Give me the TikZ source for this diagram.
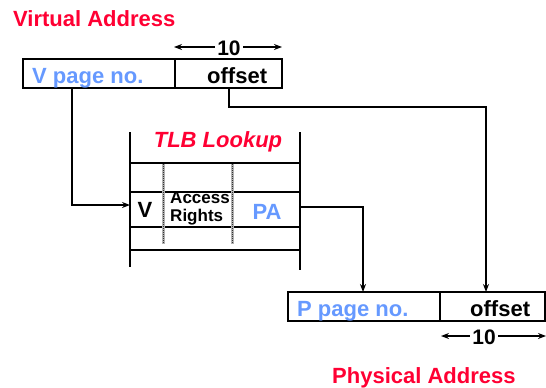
\documentclass[tikz,border=0pt]{standalone}
\usepackage{fontspec}
\setmainfont{Liberation Sans}
\usetikzlibrary{arrows.meta}
\definecolor{hred}{RGB}{255,0,51}
\definecolor{hblue}{RGB}{102,153,255}
\tikzset{
  lbl/.style={font=\fontsize{22}{24}\selectfont\bfseries, inner sep=0pt, anchor=base},
  redlbl/.style={lbl, text=hred},
  bluelbl/.style={lbl, text=hblue},
  tenlbl/.style={lbl, font=\fontsize{21}{22}\selectfont\bfseries, anchor=center, fill=white, inner xsep=2pt},
  boxline/.style={line width=2.4pt, draw=black},
  conn/.style={line width=2pt, -{Stealth[length=8pt,width=6pt]}},
  dimarr/.style={line width=2pt, {Stealth[length=8pt,width=6pt]}-{Stealth[length=8pt,width=6pt]}},
  hatch/.style={line width=3pt, draw=gray!60},
  hatchtop/.style={line width=1pt, draw=black!80, dash pattern=on 1pt off 1pt},
}
\begin{document}
\begin{tikzpicture}[x=1pt,y=-1pt]
\useasboundingbox (0,0) rectangle (546,388);
% Virtual address
\node[redlbl, anchor=base west] (vatitle) at (13,27) {Virtual Address};
\draw[boxline] (23,59) rectangle (282,88);
\draw[boxline] (175,59) -- (175,88);
\node[bluelbl, anchor=base west] (vpage) at (32,83) {V page no.};
\node[lbl, anchor=base west] (voff) at (207,83) {offset};
\coordinate (vtl) at (174,47);
\coordinate (vtr) at (282,47);
\draw[dimarr] (vtl) -- (vtr);
\node[tenlbl] (vten) at (229,48) {10};
% TLB
\draw[boxline] (130,132) -- (130,267);
\draw[boxline] (300,132) -- (300,270);
\foreach \yy in {163,192,227,250} \draw[boxline] (130,\yy) -- (300,\yy);
\foreach \xx in {163,232} {
  \draw[hatch] (\xx,164) -- (\xx,244);
  \draw[hatchtop] (\xx,164) -- (\xx,244);
}
\node[lbl, text=hred, font=\fontsize{22}{24}\selectfont\bfseries\itshape, anchor=base] (tlbtitle) at (218,147) {TLB Lookup};
\node[lbl, anchor=center] (vbit) at (145,210) {V};
\node[lbl, font=\fontsize{17}{18}\selectfont\bfseries, anchor=center, align=left] (rights) at (200,208) {Access\\Rights};
\node[bluelbl, anchor=center] (pa) at (267,212) {PA};
\coordinate (tlbin) at (130,205);
\coordinate (paout) at (300,207);
% Physical address
\draw[boxline] (288,292) rectangle (545,321);
\draw[boxline] (440,292) -- (440,321);
\node[bluelbl, anchor=base west] (ppage) at (297,316) {P page no.};
\node[lbl, anchor=base west] (poff) at (470,316) {offset};
\coordinate (ptl) at (441,336);
\coordinate (ptr) at (546,336);
\draw[dimarr] (ptl) -- (ptr);
\node[tenlbl] (pten) at (484,337) {10};
\node[redlbl, anchor=base west] (patitle) at (332,383) {Physical Address};
% connectors
\coordinate (vdown) at (72,88);
\coordinate (offdown) at (229,88);
\coordinate (ppagetop) at (363,292);
\coordinate (pofftop) at (486,292);
\draw[conn] (vdown) |- (tlbin);
\draw[conn] (offdown) -- (229,107) -| (pofftop);
\draw[conn] (paout) -| (ppagetop);
\end{tikzpicture}
\end{document}
